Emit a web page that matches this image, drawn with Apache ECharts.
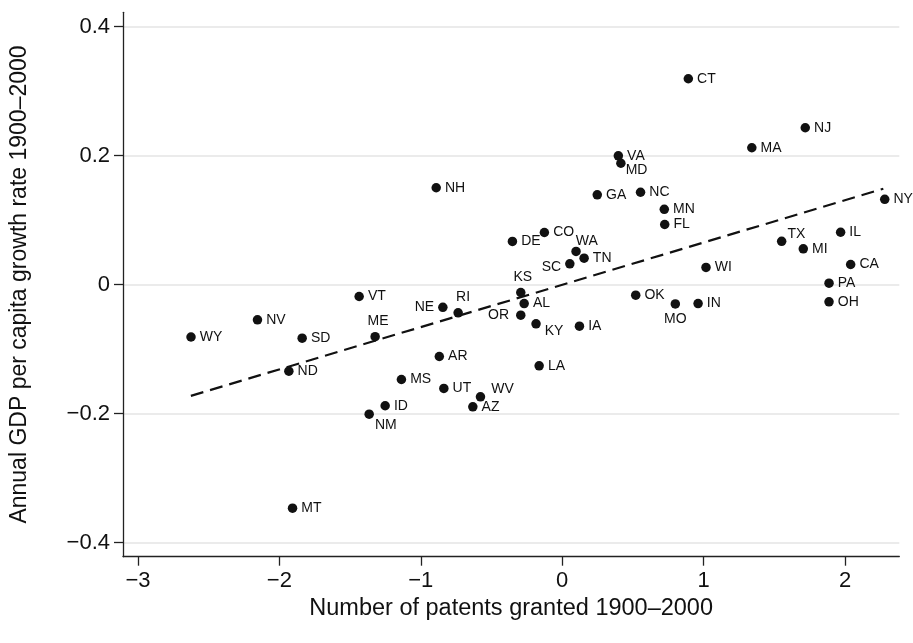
<!DOCTYPE html>
<html>
<head>
<meta charset="utf-8">
<script src="https://cdn.jsdelivr.net/npm/echarts@6/dist/echarts.min.js"></script>
<style>
html,body{margin:0;padding:0;background:#fff;}
#chart{width:913px;height:643px;}
</style>
</head>
<body>
<div id="chart"></div>
<script>
// ---- data ----
const states  = ['CT','NJ','MA','VA','MD','NH','GA','NC','MN','FL','CO','DE','WA','TN','SC','NY','IL','TX','MI','WI','CA','PA','OH','OK','MO','IN','KS','AL','OR','KY','IA','NE','RI','VT','NV','WY','SD','ME','AR','LA','ND','MS','UT','WV','ID','AZ','NM','MT'];
const patents = [0.892,1.719,1.341,0.397,0.415,-0.891,0.248,0.554,0.722,0.725,-0.126,-0.352,0.098,0.155,0.054,2.281,1.969,1.552,1.705,1.017,2.040,1.887,1.887,0.520,0.800,0.961,-0.293,-0.269,-0.293,-0.185,0.122,-0.844,-0.736,-1.436,-2.155,-2.625,-1.839,-1.323,-0.869,-0.163,-1.933,-1.137,-0.837,-0.578,-1.252,-0.632,-1.365,-1.907];
const growth  = [0.319,0.243,0.212,0.1995,0.188,0.150,0.139,0.143,0.1166,0.093,0.0806,0.0667,0.0512,0.0408,0.0321,0.132,0.081,0.067,0.0553,0.0264,0.031,0.002,-0.0268,-0.0166,-0.0302,-0.0295,-0.0124,-0.0295,-0.0476,-0.0609,-0.0647,-0.0353,-0.0439,-0.0186,-0.0547,-0.0814,-0.0833,-0.0809,-0.1116,-0.126,-0.1344,-0.1473,-0.1612,-0.1741,-0.188,-0.1896,-0.2011,-0.3468];
const fitX    = [-2.626, 2.271];
const fitY    = [-0.1726, 0.1484];
const xTicks  = [-3,-2,-1,0,1,2];
const yTicks  = [-0.4,-0.2,0,0.2,0.4];
const xTitle  = 'Number of patents granted 1900–2000';
const yTitle  = 'Annual GDP per capita growth rate 1900–2000';

// ---- label placement (style only) ----
const labelPlacement = {
  NE:{position:'left'},
  SC:{position:'left', offset:[0,3]},
  OR:{position:'left', offset:[-3,0]},
  KS:{position:'top', offset:[2,0]},
  RI:{position:'top', offset:[5,0]},
  ME:{position:'top', offset:[3,0]},
  MO:{position:'bottom', offset:[0,-1]},
  WA:{position:'right', offset:[-9,-10]},
  KY:{position:'right', offset:[0,7]},
  MD:{position:'right', offset:[-4,7]},
  NM:{position:'right', offset:[-3,11]},
  WV:{position:'right', offset:[2,-8]},
  TX:{position:'right', offset:[-3,-7]}
};

const FONT = '"Liberation Sans", Arial, Helvetica, sans-serif';
const INK = '#111111';
const fmt = v => (Math.abs(v) < 1e-9 ? '0' : String(+v.toFixed(1)).replace('-', '\u2212'));

const pts = states.map((s,i) => {
  const item = {name:s, value:[patents[i], growth[i]]};
  if (labelPlacement[s]) item.label = labelPlacement[s];
  return item;
});
const fit = fitX.map((x,i) => [x, fitY[i]]);

const chart = echarts.init(document.getElementById('chart'), null, {renderer:'canvas'});
chart.setOption({
  animation:false,
  backgroundColor:'#fff',
  grid:{left:122.7, right:13.7, top:12.3, bottom:86.3},
  xAxis:{
    type:'value', min:-3.106, max:2.384,
    axisLine:{onZero:false, lineStyle:{color:'#222', width:1.3}},
    axisTick:{show:true, length:9, customValues:xTicks, lineStyle:{color:'#222', width:1.3}},
    axisLabel:{customValues:xTicks, formatter:fmt, margin:13, fontFamily:FONT, fontSize:22, color:INK},
    splitLine:{show:false},
    name:xTitle, nameLocation:'middle', nameGap:37,
    nameTextStyle:{fontFamily:FONT, fontSize:23.5, color:INK}
  },
  yAxis:{
    type:'value', min:-0.422, max:0.422,
    axisLine:{onZero:false, lineStyle:{color:'#222', width:1.3}},
    axisTick:{show:true, length:9, customValues:yTicks, lineStyle:{color:'#222', width:1.3}},
    axisLabel:{customValues:yTicks, formatter:fmt, margin:13, fontFamily:FONT, fontSize:22, color:INK},
    splitLine:{show:true, lineStyle:{color:'#e4e4e4', width:1.5}},
    name:yTitle, nameLocation:'middle', nameGap:92, nameRotate:90,
    nameTextStyle:{fontFamily:FONT, fontSize:23, color:INK}
  },
  series:[
    {
      type:'line', data:fit, symbol:'none', silent:true, z:2,
      lineStyle:{color:INK, width:2.2, type:[13,7]}
    },
    {
      type:'scatter', data:pts, symbol:'circle', symbolSize:9.5, z:3,
      itemStyle:{color:INK, opacity:1},
      label:{show:true, formatter:p=>p.name, position:'right', distance:4,
             fontFamily:FONT, fontSize:14, color:INK}
    }
  ]
});
</script>
</body>
</html>
